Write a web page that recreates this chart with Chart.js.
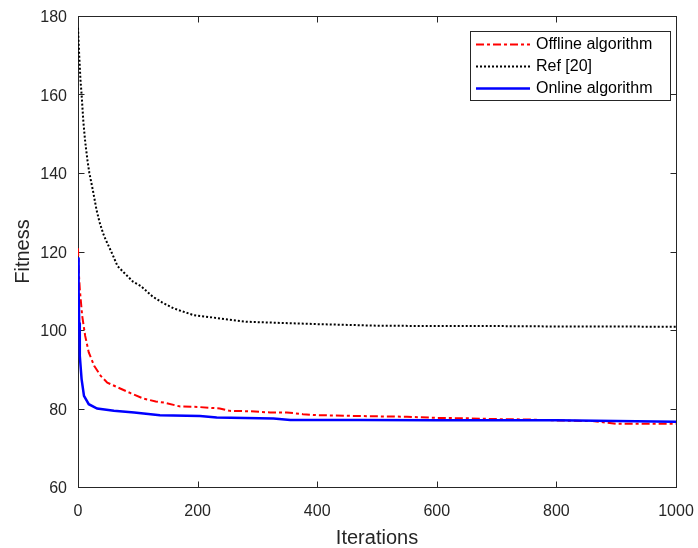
<!DOCTYPE html>
<html>
<head>
<meta charset="utf-8">
<script src="https://cdn.jsdelivr.net/npm/chart.js@4/dist/chart.umd.min.js"></script>
<style>
  html, body { margin: 0; padding: 0; background: #fff; }
  #wrap { width: 698px; height: 548px; }
</style>
</head>
<body>
<div id="wrap"><canvas id="c" width="698" height="548"></canvas></div>
<script>
// ---- Data ----
const seriesLabels = ['Offline algorithm', 'Ref [20]', 'Online algorithm'];

const offlineIter = [0, 1, 3, 7, 12, 18, 27, 38, 49, 66, 88, 110, 130, 144, 171, 200, 237, 254, 288, 321, 349, 376, 399, 466, 500, 550, 600, 650, 700, 750, 817, 860, 901, 950, 1000];
const offlineVal  = [120.8, 115.5, 110.4, 103.6, 98.5, 94.3, 90.9, 88.3, 86.6, 85.4, 83.9, 82.5, 81.8, 81.5, 80.5, 80.4, 80.0, 79.4, 79.3, 79.0, 79.0, 78.55, 78.3, 78.1, 78.0, 77.9, 77.6, 77.5, 77.3, 77.2, 76.9, 76.8, 76.1, 76.1, 76.1];

const refIter = [0, 2, 4, 6, 9, 12, 16, 19, 25, 31, 36, 42, 46, 57, 66, 77, 92, 105, 125, 141, 160, 193, 225, 250, 282, 320, 360, 400, 450, 500, 600, 700, 800, 900, 1000];
const refVal  = [177, 170, 164, 160, 153, 148, 143, 140, 135.5, 130.6, 127.5, 124.6, 123.1, 119.5, 116.3, 114.6, 112.3, 111.2, 108.5, 107, 105.5, 103.8, 103.2, 102.7, 102.1, 101.9, 101.7, 101.5, 101.3, 101.1, 101.0, 101.0, 100.9, 100.9, 100.8];

const onlineIter = [0, 1, 2, 3, 6, 10, 18, 32, 60, 94, 137, 204, 232, 327, 355, 472, 600, 700, 800, 900, 1000];
const onlineVal  = [118.5, 110.4, 101.9, 93.4, 87.5, 83.2, 81.1, 80.0, 79.4, 79.0, 78.3, 78.1, 77.7, 77.45, 77.1, 77.05, 77.0, 77.0, 77.0, 76.8, 76.6];

const xTicks = [0, 200, 400, 600, 800, 1000];
const yTicks = [60, 80, 100, 120, 140, 160, 180];
const xTitle = 'Iterations';
const yTitle = 'Fitness';

// ---- Chart ----
const AXIS = '#262626';
const FONT = "'Liberation Sans', Arial, sans-serif";
const toPts = (xs, ys) => xs.map((x, i) => ({ x: x, y: ys[i] }));

const boxPlugin = {
  id: 'matlabBox',
  beforeDatasetsDraw(chart) {
    const { ctx, chartArea: a, scales } = chart;
    const L = Math.round(a.left) + 0.5, R = Math.round(a.right) + 0.5;
    const T = Math.round(a.top) + 0.5, B = Math.round(a.bottom) + 0.5;
    ctx.save();
    ctx.strokeStyle = AXIS;
    ctx.lineWidth = 1;
    ctx.setLineDash([]);
    ctx.strokeRect(L, T, R - L, B - T);
    const tl = 6;
    ctx.beginPath();
    xTicks.forEach(v => {
      const px = Math.round(scales.x.getPixelForValue(v)) + 0.5;
      ctx.moveTo(px, B); ctx.lineTo(px, B - tl);
      ctx.moveTo(px, T); ctx.lineTo(px, T + tl);
    });
    yTicks.forEach(v => {
      const py = Math.round(scales.y.getPixelForValue(v)) + 0.5;
      ctx.moveTo(L, py); ctx.lineTo(L + tl, py);
      ctx.moveTo(R, py); ctx.lineTo(R - tl, py);
    });
    ctx.stroke();
    ctx.restore();
  }
};

const legendPlugin = {
  id: 'matlabLegend',
  afterDraw(chart) {
    const { ctx } = chart;
    const x0 = 470.5, y0 = 31.5, w = 200, h = 69;
    ctx.save();
    ctx.fillStyle = '#fff';
    ctx.fillRect(x0, y0, w, h);
    ctx.strokeStyle = AXIS;
    ctx.lineWidth = 1;
    ctx.setLineDash([]);
    ctx.strokeRect(x0, y0, w, h);
    const rows = [44.5, 66.5, 88.5];
    chart.data.datasets.forEach((ds, i) => {
      const y = rows[i];
      ctx.strokeStyle = ds.borderColor;
      ctx.lineWidth = ds.borderWidth;
      ctx.setLineDash(ds.borderDash || []);
      ctx.beginPath();
      ctx.moveTo(476, y); ctx.lineTo(530, y);
      ctx.stroke();
      ctx.setLineDash([]);
      ctx.fillStyle = '#000';
      ctx.font = '16px ' + FONT;
      ctx.textBaseline = 'middle';
      ctx.textAlign = 'left';
      ctx.fillText(ds.label, 536, y);
    });
    ctx.restore();
  }
};

new Chart(document.getElementById('c'), {
  type: 'line',
  data: {
    datasets: [
      { label: seriesLabels[0], data: toPts(offlineIter, offlineVal), borderColor: '#ff0000', borderWidth: 2, borderDash: [8, 3, 3, 3], order: 1 },
      { label: seriesLabels[1], data: toPts(refIter, refVal), borderColor: '#000000', borderWidth: 2, borderDash: [2, 2], order: 2 },
      { label: seriesLabels[2], data: toPts(onlineIter, onlineVal), borderColor: '#0000ff', borderWidth: 2.5, order: 0 }
    ]
  },
  options: {
    responsive: false,
    animation: false,
    devicePixelRatio: 1,
    layout: { padding: 0 },
    elements: { point: { radius: 0 }, line: { tension: 0, fill: false, borderCapStyle: 'butt' } },
    plugins: { legend: { display: false }, tooltip: { enabled: false } },
    scales: {
      x: {
        type: 'linear', min: 0, max: 1000,
        afterBuildTicks: s => { s.ticks = xTicks.map(v => ({ value: v })); },
        afterFit: s => { s.height = 61; s.paddingLeft = 0; s.paddingRight = 22; s.paddingTop = 0; s.paddingBottom = 0; },
        grid: { display: false, drawTicks: false },
        border: { display: false },
        ticks: { color: AXIS, font: { family: FONT, size: 16 }, padding: 15, maxRotation: 0, autoSkip: false, callback: v => String(v) },
        title: { display: true, text: xTitle, color: AXIS, font: { family: FONT, size: 20 }, padding: { top: 0, bottom: -2 } }
      },
      y: {
        type: 'linear', min: 60, max: 180,
        afterBuildTicks: s => { s.ticks = yTicks.map(v => ({ value: v })); },
        afterFit: s => { s.width = 78; s.paddingTop = 16; s.paddingBottom = 0; s.paddingLeft = 0; s.paddingRight = 0; },
        grid: { display: false, drawTicks: false },
        border: { display: false },
        ticks: { color: AXIS, font: { family: FONT, size: 16 }, padding: 11, labelOffset: 2, autoSkip: false, callback: v => String(v) },
        title: { display: true, text: yTitle, color: AXIS, font: { family: FONT, size: 20 }, padding: { top: 11, bottom: 0 } }
      }
    }
  },
  plugins: [boxPlugin, legendPlugin]
});
</script>
</body>
</html>
